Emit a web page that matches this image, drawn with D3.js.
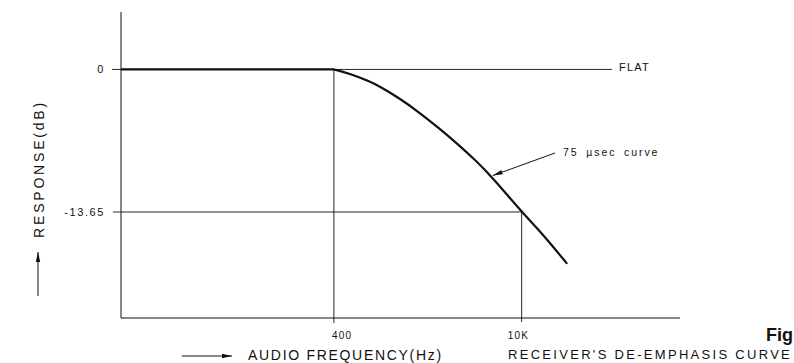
<!DOCTYPE html>
<html>
<head>
<meta charset="utf-8">
<script src="https://cdn.jsdelivr.net/npm/d3@7"></script>
<style>
  html, body { margin: 0; padding: 0; background: #fff; }
  svg { display: block; }
  text { font-family: "Liberation Sans", "DejaVu Sans", sans-serif; fill: #111; }
</style>
</head>
<body>
<svg id="chart" width="794" height="363"></svg>
<script>
// Frequency range of the plot (Hz) and response range (dB)
const freqDomain = [10.4, 151000];
const dbDomain = [5.5, -23.8];

// Flat part of the response below the turnover
const flatFreq = [10.4, 100, 200, 400];
const flatDb = [0, 0, 0, 0];

// 75 µs de-emphasis roll-off above 400 Hz
const curveFreq = [400, 527, 743, 882, 1243, 1751, 2468, 3360, 4497, 5988, 10000, 14675, 21600];
const curveDb = [0, -0.4, -1.16, -1.64, -2.79, -4.17, -5.7, -7.17, -8.66, -10.26, -13.65, -15.9, -18.55];

// Marked reference values
const markFreq = [400, 10000];
const markFreqLabels = ["400", "10K"];
const markDb = [0, -13.65];
const markDbLabels = ["0", "-13.65"];

const svg = d3.select("#chart");
const ink = "#111";

const x = d3.scaleLog().domain(freqDomain).range([121, 680]);
const y = d3.scaleLinear().domain(dbDomain).range([12, 318]);

// Axes: plain lines
svg.append("line").attr("x1", x(freqDomain[0])).attr("x2", x(freqDomain[0]))
  .attr("y1", y(dbDomain[0])).attr("y2", y(dbDomain[1]))
  .attr("stroke", ink).attr("stroke-width", 1);
svg.append("line").attr("x1", x(freqDomain[0])).attr("x2", x(freqDomain[1]))
  .attr("y1", y(dbDomain[1])).attr("y2", y(dbDomain[1]))
  .attr("stroke", ink).attr("stroke-width", 1);

// Zero reference line running out to the FLAT label
svg.append("line").attr("x1", x(freqDomain[0]) - 9).attr("x2", 612)
  .attr("y1", y(0)).attr("y2", y(0))
  .attr("stroke", ink).attr("stroke-width", 0.9);
svg.append("text").attr("x", 619).attr("y", y(0) + 2)
  .attr("font-size", 11).attr("letter-spacing", 1.2).text("FLAT");

// -13.65 dB reference line to the 10K point
svg.append("line").attr("x1", x(freqDomain[0]) - 8).attr("x2", x(10000))
  .attr("y1", y(-13.65)).attr("y2", y(-13.65))
  .attr("stroke", ink).attr("stroke-width", 0.9);

// Vertical lines at the marked frequencies
svg.append("line").attr("x1", x(400)).attr("x2", x(400))
  .attr("y1", y(0)).attr("y2", y(dbDomain[1]) + 5)
  .attr("stroke", ink).attr("stroke-width", 0.9);
svg.append("line").attr("x1", x(10000)).attr("x2", x(10000))
  .attr("y1", y(-13.65)).attr("y2", y(dbDomain[1]) + 4)
  .attr("stroke", ink).attr("stroke-width", 0.9);

// dB labels
svg.selectAll("text.dbl").data(markDb).join("text")
  .attr("class", "dbl")
  .attr("x", 105).attr("y", d => y(d) + 4)
  .attr("text-anchor", "end").attr("font-size", 11).attr("letter-spacing", 1.6)
  .text((d, i) => markDbLabels[i]);

// frequency labels
const fOffsets = [-2, -14];
svg.selectAll("text.fl").data(markFreq).join("text")
  .attr("class", "fl")
  .attr("x", (d, i) => x(d) + fOffsets[i]).attr("y", 338.5)
  .attr("font-size", 10).attr("letter-spacing", 1.2)
  .text((d, i) => markFreqLabels[i]);

// Response curve
const line = d3.line().x(d => x(d[0])).y(d => y(d[1]));
svg.append("path")
  .datum(flatFreq.map((f, i) => [f, flatDb[i]]))
  .attr("d", line).attr("fill", "none").attr("stroke", ink).attr("stroke-width", 2.2);
svg.append("path")
  .datum(curveFreq.map((f, i) => [f, curveDb[i]]))
  .attr("d", line.curve(d3.curveBasis))
  .attr("fill", "none").attr("stroke", ink).attr("stroke-width", 2.2)
  .attr("stroke-linecap", "round");

// Arrowhead marker
const defs = svg.append("defs");
defs.append("marker").attr("id", "ah")
  .attr("viewBox", "0 0 10 6").attr("refX", 10).attr("refY", 3)
  .attr("markerWidth", 10).attr("markerHeight", 6)
  .attr("markerUnits", "userSpaceOnUse").attr("orient", "auto")
  .append("path").attr("d", "M0,0.8 L10,3 L0,5.2 Z").attr("fill", ink);

// Curve annotation
const annF = 5988, annDb = -10.26;
svg.append("line").attr("x1", 555).attr("y1", 153)
  .attr("x2", x(annF) + 1).attr("y2", y(annDb) - 1)
  .attr("stroke", ink).attr("stroke-width", 1).attr("marker-end", "url(#ah)");
svg.append("text").attr("x", 563).attr("y", 156)
  .attr("font-size", 10.5).attr("letter-spacing", 1.9).attr("word-spacing", 3)
  .text("75 µsec curve");

// Axis titles with arrows
svg.append("line").attr("x1", 38).attr("x2", 38).attr("y1", 296).attr("y2", 252)
  .attr("stroke", ink).attr("stroke-width", 1).attr("marker-end", "url(#ah)");
svg.append("text")
  .attr("transform", "translate(44,169) rotate(-90)")
  .attr("text-anchor", "middle").attr("font-size", 14).attr("letter-spacing", 2.8)
  .text("RESPONSE(dB)");

svg.append("line").attr("x1", 182).attr("x2", 232).attr("y1", 356).attr("y2", 356)
  .attr("stroke", ink).attr("stroke-width", 1).attr("marker-end", "url(#ah)");
svg.append("text").attr("x", 248).attr("y", 360)
  .attr("font-size", 14).attr("letter-spacing", 1.7)
  .text("AUDIO FREQUENCY(Hz)");

svg.append("text").attr("x", 508).attr("y", 359)
  .attr("font-size", 13).attr("letter-spacing", 2.3)
  .text("RECEIVER'S DE-EMPHASIS CURVE");

svg.append("text").attr("x", 766).attr("y", 341)
  .attr("font-size", 18).attr("font-weight", "bold")
  .text("Fig");
</script>
</body>
</html>
